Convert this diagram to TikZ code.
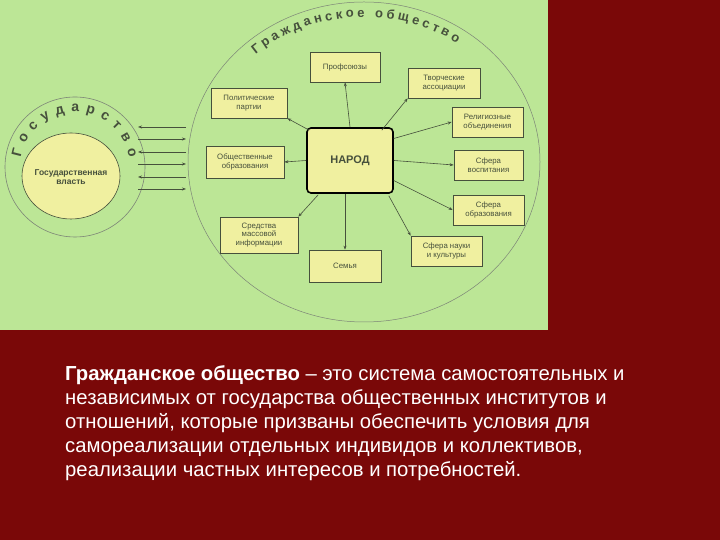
\documentclass[tikz,border=0pt]{standalone}
\usepackage{fontspec}
\setmainfont{Liberation Sans}
\usetikzlibrary{decorations.text,arrows.meta}
\definecolor{bgred}{RGB}{122,8,8}
\definecolor{pgreen}{RGB}{188,230,150}
\definecolor{pyel}{RGB}{240,240,160}
\definecolor{ink}{RGB}{70,80,60}
\begin{document}
\begin{tikzpicture}[x=1pt,y=1pt,
  box/.style={draw=ink,fill=pyel,line width=0.7pt,align=center,font=\fontsize{7.8}{8.6}\selectfont,text=ink,inner sep=1pt},
  arr/.style={-{Stealth[length=4pt,width=3pt]},draw=ink,line width=0.6pt}]
\fill[bgred] (0,0) rectangle (720,540);
\useasboundingbox (0,0) rectangle (720,540);
\fill[pgreen] (0,210) rectangle (548,540);
\draw[ink!70,line width=0.5pt] (364,378) ellipse [x radius=176, y radius=160];
\draw[ink!70,line width=0.6pt] (75,373) circle (70);
\draw[ink,fill=pyel,line width=0.6pt] (71,364) ellipse [x radius=49, y radius=43];
\node[font=\fontsize{8.5}{9.5}\selectfont\bfseries,text=ink,align=center] (gv) at (71,363) {Государственная\\власть};
\path[decorate,decoration={text along path,text align=fit to path,text={|\fontsize{14}{14}\selectfont\bfseries\color{ink}|Государство}}]
  (75,373) ++(170:55) arc (170:10:55);
\path[decorate,decoration={text along path,text align=fit to path,text={|\fontsize{13}{13}\selectfont\bfseries\color{ink}|Гражданское общество}}]
  (364,378) ++({162*cos(132)},{145*sin(132)}) arc [start angle=132,end angle=55,x radius=162,y radius=145];
\node[box,draw=black,line width=1.6pt,rounded corners=4pt,minimum width=86,minimum height=65,font=\fontsize{11}{12}\selectfont\bfseries] (nar) at (350,379.5) {НАРОД};
\node[box,minimum width=70,minimum height=30] (b1) at (345,473) {Профсоюзы};
\node[box,minimum width=72,minimum height=30] (b2) at (444,457) {Творческие\\ассоциации};
\node[box,minimum width=71,minimum height=30] (b3) at (487.5,418) {Религиозные\\объединения};
\node[box,minimum width=69,minimum height=30] (b4) at (488.5,375) {Сфера\\воспитания};
\node[box,minimum width=71,minimum height=30] (b5) at (488.5,330) {Сфера\\образования};
\node[box,minimum width=71,minimum height=30] (b6) at (446.5,289) {Сфера науки\\и культуры};
\node[box,minimum width=72,minimum height=32] (b7) at (345,274) {Семья};
\node[box,minimum width=78,minimum height=36] (b8) at (259,305) {Средства\\массовой\\информации};
\node[box,minimum width=78,minimum height=32] (b9) at (245,378) {Общественные\\образования};
\node[box,minimum width=76,minimum height=30] (b10) at (249,437) {Политические\\партии};
\draw[arr] (nar.north) -- (b1.south);
\draw[arr] (nar.north east) ++(-12,-3) -- (b2.south west);
\draw[arr] (nar.east) ++(0,22) -- (b3.west);
\draw[arr] (nar.east) -- (b4.west);
\draw[arr] (nar.east) ++(0,-20) -- (b5.west);
\draw[arr] (nar.south east) ++(-5,-2) -- (b6.north west);
\draw[arr] (nar.south) ++(-5,0) -- (b7.north);
\draw[arr] (nar.south west) ++(12,-1) -- (b8.north east);
\draw[arr] (nar.west) -- (b9.east);
\draw[arr] (nar.north west) ++(3,-3) -- (b10.south east);
\foreach \i/\yy in {1/413,2/401,3/388,4/376,5/363,6/351}{
  \coordinate (sa\i) at (138,\yy); \coordinate (sb\i) at (186,\yy);
}
\draw[arr] (sb1) -- (sa1); \draw[arr] (sa2) -- (sb2);
\draw[arr] (sb3) -- (sa3); \draw[arr] (sa4) -- (sb4);
\draw[arr] (sb5) -- (sa5); \draw[arr] (sa6) -- (sb6);
\node[anchor=north west,text=white,align=left,font=\fontsize{20.3}{24}\selectfont,inner sep=0pt] (txt) at (65,175)
{\textbf{Гражданское общество} – это система самостоятельных и\\независимых от государства общественных институтов и\\отношений, которые призваны обеспечить условия для\\самореализации отдельных индивидов и коллективов,\\реализации частных интересов и потребностей.};
\end{tikzpicture}
\end{document}
